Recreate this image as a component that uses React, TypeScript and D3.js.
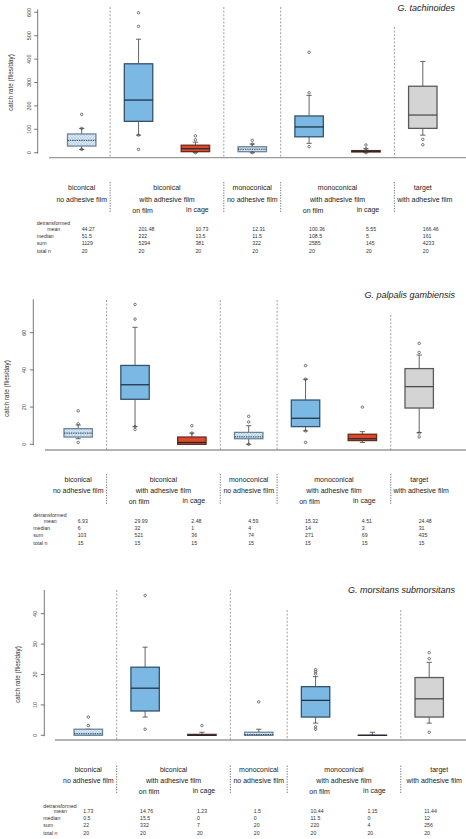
import React from "react";
import * as d3 from "d3";

// ---------- DATA ----------
const groupLine1 = ["biconical", "biconical", "monoconical", "monoconical", "target"];
const groupLine2 = ["no adhesive film", "with adhesive film", "no adhesive film", "with adhesive film", "with adhesive film"];
const subLabels = ["on film", "in cage"];
const statLabels = ["mean", "median", "sum", "total n"];
const boxKinds = ["hatch", "blue", "red", "hatch", "blue", "red", "gray"];

// [lower whisker, Q1, median, Q3, upper whisker]
const tachBoxes = [
  [14, 28.5, 53, 80, 104],
  [75, 134, 225, 380, 485],
  [0, 4.5, 17, 32, 45],
  [0, 4.3, 15, 25.6, 37],
  [40, 68, 110, 157, 245],
  [0, 3, 6, 9, 17],
  [75, 104, 161, 284, 390],
];
const tachOutliers = [[14, 104, 164], [14, 75, 540, 598], [0, 55, 72], [0, 37, 53], [26, 256, 429], [0, 17, 33], [34, 57]];
const tachTicks = [0, 100, 200, 300, 400, 500, 600];
const tachMean = ["44.27", "201.48", "10.73", "12.31", "100.36", "5.55", "166.46"];
const tachMedian = ["51.5", "222", "13.5", "11.5", "108.5", "5", "161"];
const tachSum = ["1129", "5294", "381", "322", "2585", "145", "4233"];
const tachN = ["20", "20", "20", "20", "20", "20", "20"];

const palpBoxes = [
  [3, 3.9, 6, 8.4, 10.4],
  [9.5, 24.2, 32, 42.4, 62.9],
  [0, 0, 1, 3.9, 6],
  [0, 3, 4, 6.4, 10],
  [7.2, 9.5, 14, 23.8, 35],
  [1, 2, 3, 5.4, 6.8],
  [6.3, 19.5, 31, 40.7, 48],
];
const palpOutliers = [[1, 11, 18], [8, 9.5, 67.3, 75.2], [6, 10], [0, 12, 15], [1, 7.2, 35, 42.3], [20], [4, 6, 49.4, 54.3]];
const palpTicks = [0, 20, 40, 60];
const palpMean = ["6.93", "29.99", "2.48", "4.59", "15.32", "4.51", "24.48"];
const palpMedian = ["6", "32", "1", "4", "14", "3", "31"];
const palpSum = ["103", "521", "36", "74", "271", "69", "435"];
const palpN = ["15", "15", "15", "15", "15", "15", "15"];

const morsBoxes = [
  [0, 0, 0.5, 2, 2],
  [6, 8, 15.5, 22.4, 29],
  [0, 0, 0, 0.3, 1],
  [0, 0, 0.2, 1, 2],
  [4, 6, 11.5, 16, 19.3],
  [0, 0, 0, 0, 1],
  [4, 6, 12, 19, 24],
];
const morsOutliers = [[3.2, 6], [2, 46], [3.2], [11], [2, 2.8, 20.2, 20.9, 21.6], [], [1, 25.2, 27.2]];
const morsTicks = [0, 10, 20, 30, 40];
const morsMean = ["1.73", "14.76", "1.23", "1.5", "10.44", "1.15", "11.44"];
const morsMedian = ["0.5", "15.5", "0", "0", "11.5", "0", "12"];
const morsSum = ["22", "332", "7", "20", "220", "4", "256"];
const morsN = ["20", "20", "20", "20", "20", "20", "20"];

// ---------- LAYOUT ----------
const panels = [
  {
    title: "G. tachinoides", boxes: tachBoxes, outliers: tachOutliers, ticks: tachTicks,
    stats: [tachMean, tachMedian, tachSum, tachN],
    axisX: 37.7, y0: 152.7, topVal: 600, topPx: 12.3, axisTopVal: 612, xAxisY: 157.7, xAxisLeft: 49,
    x0: 81.7, x6: 422.8, sepTops: [7, 7, 7, 27], titleY: 7.5,
    l1: 187.3, l2: 199, l3: 210, sepY1: 182, sepY2: 212.7, rows: [222.7, 229, 236, 243.3, 250.7],
    valOff: 0, targetOff: 0,
  },
  {
    title: "G. palpalis gambiensis", boxes: palpBoxes, outliers: palpOutliers, ticks: palpTicks,
    stats: [palpMean, palpMedian, palpSum, palpN],
    axisX: 33.3, y0: 444.3, topVal: 60, topPx: 332.7, axisTopVal: 78, xAxisY: 450, xAxisLeft: 45,
    x0: 78.2, x6: 419.2, sepTops: [300, 300, 300, 315], titleY: 295,
    l1: 479.3, l2: 490, l3: 501.3, sepY1: 474, sepY2: 505, rows: [515, 520.7, 527.7, 535, 543],
    valOff: -0.5, targetOff: 0,
  },
  {
    title: "G. morsitans submorsitans", boxes: morsBoxes, outliers: morsOutliers, ticks: morsTicks,
    stats: [morsMean, morsMedian, morsSum, morsN],
    axisX: 44.3, y0: 735.3, topVal: 40, topPx: 613.7, axisTopVal: 47.8, xAxisY: 740, xAxisLeft: 55,
    x0: 88.3, x6: 429.2, sepTops: [590, 590, 610, 610], titleY: 590,
    l1: 769, l2: 780, l3: 791.7, sepY1: 765.7, sepY2: 794.3, rows: [805.7, 811, 818, 825.3, 833],
    valOff: -5, targetOff: 10,
  },
];

const FONT = "'Liberation Sans', Arial, Helvetica, sans-serif";
const fills: Record<string, string> = { hatch: "url(#hatch)", blue: "#7bb8e3", red: "#db4a2b", gray: "#d4d4d4" };
const strokes: Record<string, string> = { hatch: "#6d8499", blue: "#34536e", red: "#6b2a1c", gray: "#5a5a5a" };

function Panel({ p }: { p: any }) {
  const y = d3.scaleLinear().domain([0, p.topVal]).range([p.y0, p.topPx]);
  const x = d3.scaleLinear().domain([0, 6]).range([p.x0, p.x6]);
  const bw = (x(1) - x(0)) * 0.5;
  const cap = 2.6;
  const seps = [0.5, 2.5, 3.5, 5.5];
  const groupCenters = [0, 1.5, 3, 4.5, 6];
  const labelX = x(0) - 45;
  return (
    <g>
      {/* title */}
      <text x={455} y={p.titleY} textAnchor="end" dominantBaseline="central" fontStyle="italic" fontSize={9} fill="#222">
        {p.title}
      </text>
      {/* y axis */}
      <line x1={p.axisX} x2={p.axisX} y1={y(0) + 1} y2={y(p.axisTopVal)} stroke="#555" strokeWidth={0.8} />
      {p.ticks.map((t: number) => (
        <g key={t}>
          <line x1={p.axisX - 3.5} x2={p.axisX} y1={y(t)} y2={y(t)} stroke="#555" strokeWidth={0.8} />
          <text
            transform={`translate(${p.axisX - 9},${y(t)}) rotate(-90)`}
            textAnchor="middle" dominantBaseline="central" fontSize={5.5} fill="#444"
          >{t}</text>
        </g>
      ))}
      <text
        transform={`translate(${p.axisX - 27},${(y(0) + y(p.topVal)) / 2}) rotate(-90)`}
        textAnchor="middle" dominantBaseline="central" fontSize={6.3} fill="#333"
      >catch rate (flies/day)</text>
      {/* x axis line */}
      <line x1={p.xAxisLeft} x2={466} y1={p.xAxisY} y2={p.xAxisY} stroke="#9a9a9a" strokeWidth={1.3} />
      {/* separators */}
      {seps.map((s, i) => (
        <line key={s} x1={x(s)} x2={x(s)} y1={p.sepTops[i]} y2={p.xAxisY} stroke="#777" strokeWidth={0.7} strokeDasharray="2,1.6" />
      ))}
      {/* boxes */}
      {p.boxes.map((b: number[], i: number) => {
        const kind = boxKinds[i];
        const cx = x(i);
        return (
          <g key={i}>
            <line x1={cx} x2={cx} y1={y(b[0])} y2={y(b[1])} stroke="#555" strokeWidth={0.9} />
            <line x1={cx} x2={cx} y1={y(b[3])} y2={y(b[4])} stroke="#555" strokeWidth={0.9} />
            <line x1={cx - cap} x2={cx + cap} y1={y(b[0])} y2={y(b[0])} stroke="#555" strokeWidth={0.9} />
            <line x1={cx - cap} x2={cx + cap} y1={y(b[4])} y2={y(b[4])} stroke="#555" strokeWidth={0.9} />
            <rect x={cx - bw / 2} y={y(b[3])} width={bw} height={Math.max(y(b[1]) - y(b[3]), 0.01)}
              fill={fills[kind]} stroke={strokes[kind]} strokeWidth={1.3} />
            <line x1={cx - bw / 2} x2={cx + bw / 2} y1={y(b[2])} y2={y(b[2])}
              stroke={kind === "hatch" ? "#1f3550" : kind === "gray" ? "#444" : "#1b2a3a"}
              strokeWidth={kind === "hatch" ? 1 : 1.2} strokeDasharray={kind === "hatch" ? "1.4,0.9" : undefined} />
            {p.outliers[i].map((o: number, k: number) => (
              <circle key={k} cx={cx} cy={y(o)} r={1.25} fill="none" stroke="#444" strokeWidth={0.7} />
            ))}
          </g>
        );
      })}
      {/* table header */}
      {seps.map((s) => (
        <line key={"t" + s} x1={x(s)} x2={x(s)} y1={p.sepY1} y2={p.sepY2} stroke="#555" strokeWidth={0.8} strokeDasharray="1.3,1.3" />
      ))}
      {groupCenters.map((g, i) => (
        <g key={"g" + i}>
          <text x={x(g) + (i === 4 ? p.targetOff : 0)} y={p.l1} textAnchor="middle" dominantBaseline="central" fontSize={7} fill="#222">{groupLine1[i]}</text>
          <text x={x(g) + (i === 4 ? p.targetOff * 0.3 + 2 : 0)} y={p.l2} textAnchor="middle" dominantBaseline="central" fontSize={7} fill="#222">{groupLine2[i]}</text>
        </g>
      ))}
      {[1, 4].map((g) => (
        <g key={"s" + g}>
          <text x={x(g) + 4} y={p.l3} textAnchor="middle" dominantBaseline="central" fontSize={7} fill="#222">{subLabels[0]}</text>
          <text x={x(g + 1) + 2} y={p.l3 - 1} textAnchor="middle" dominantBaseline="central" fontSize={7} fill="#222">{subLabels[1]}</text>
        </g>
      ))}
      {/* stats */}
      <text x={labelX} y={p.rows[0]} dominantBaseline="central" fontSize={5.2} fill="#333">detransformed</text>
      {statLabels.map((s, r) => (
        <text key={s} x={r === 0 ? labelX + 10.5 : labelX} y={p.rows[r + 1]} dominantBaseline="central" fontSize={5.2} fill="#333">{s}</text>
      ))}
      {p.stats.map((row: string[], r: number) =>
        row.map((v, i) => (
          <text key={r + "-" + i} x={x(i) + p.valOff} y={p.rows[r + 1]} dominantBaseline="central" fontSize={5.2} fill="#333">{v}</text>
        ))
      )}
    </g>
  );
}

export default function App() {
  return (
    <svg width={466} height={839} style={{ position: "absolute", left: 0, top: 0, background: "#fff" }} fontFamily={FONT}>
      <defs>
        <pattern id="hatch" width={3} height={3} patternUnits="userSpaceOnUse">
          <rect width={3} height={3} fill="#dbe9f6" />
          <path d="M0,3 L3,0 M0,0 L3,3" stroke="#a9c9e6" strokeWidth={0.5} />
        </pattern>
      </defs>
      <rect width={466} height={839} fill="#fff" />
      {panels.map((p, i) => (
        <Panel key={i} p={p} />
      ))}
    </svg>
  );
}
